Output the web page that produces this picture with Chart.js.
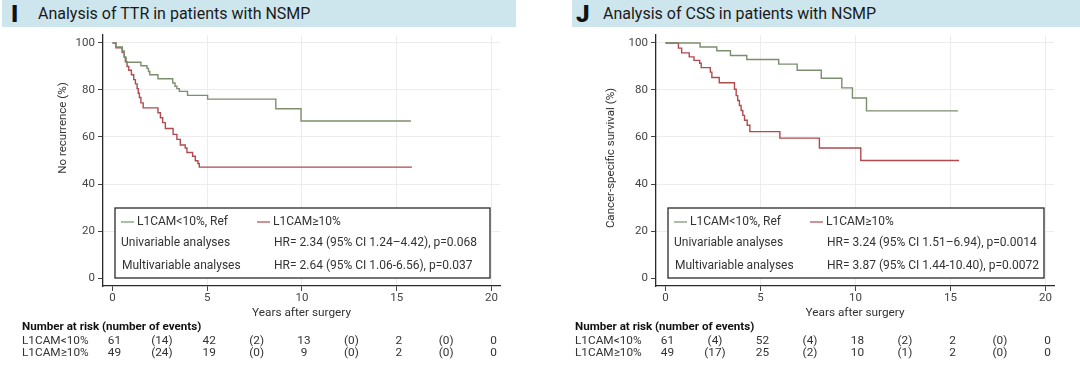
<!DOCTYPE html>
<html>
<head>
<meta charset="utf-8">
<script src="https://cdn.jsdelivr.net/npm/chart.js@4/dist/chart.umd.min.js"></script>
<style>
  body { margin: 0; background: #fff; font-family: Roboto, sans-serif; }
  #page { position: relative; width: 1080px; height: 371px; overflow: hidden; }
  .hdr { position: absolute; top: 0; height: 27px; background: #cde6ee; }
  .hdr b { position: absolute; top: 1px; font-size: 24px; font-weight: 900; color: #111; line-height: 26px; }
  .hdr span { position: absolute; top: 4px; font-size: 16px; color: #1a1a1a; line-height: 19px; }
  canvas { position: absolute; top: 0; }
</style>
</head>
<body>
<div id="page">
  <div class="hdr" style="left:2px;width:514px"><b style="left:9px">I</b><span style="left:36px">Analysis of TTR in patients with NSMP</span></div>
  <div class="hdr" style="left:572px;width:508px"><b style="left:4px">J</b><span style="left:31px">Analysis of CSS in patients with NSMP</span></div>
  <canvas id="ttrChart" width="540" height="371" style="left:0"></canvas>
  <canvas id="cssChart" width="540" height="371" style="left:540px"></canvas>
</div>
<script>
// groups and legend text
const groups = ['L1CAM<10%', 'L1CAM≥10%'];
const legendLabels = ['L1CAM<10%, Ref', 'L1CAM≥10%'];

// axis ticks
const xTicks = [0, 5, 10, 15, 20];
const yTicks = [0, 20, 40, 60, 80, 100];
const riskTimes = [0, 5, 10, 15, 20];

// panel I: time to recurrence (years, % without recurrence)
const ttrLowTime = [0, 0.18, 0.52, 0.62, 0.72, 1.5, 1.82, 1.9, 1.97, 2.4, 3.18, 3.3, 3.4, 3.53, 3.96, 5.02, 8.62, 9.95, 15.75];
const ttrLowSurv = [100, 98.3, 96.6, 94.0, 91.8, 90.3, 89.2, 87.9, 86.5, 84.8, 83.0, 81.6, 80.6, 79.4, 77.7, 76.1, 72.0, 66.8, 66.8];
const ttrHighTime = [0, 0.18, 0.51, 0.62, 0.68, 0.77, 0.86, 1.0, 1.12, 1.21, 1.3, 1.36, 1.42, 1.5, 1.62, 2.4, 2.53, 2.65, 2.79, 3.2, 3.4, 3.58, 3.84, 3.93, 4.23, 4.37, 4.51, 4.58, 15.8];
const ttrHighSurv = [100, 98.0, 96.0, 94.0, 92.0, 90.0, 88.4, 86.5, 84.4, 82.6, 80.6, 78.6, 76.8, 74.5, 72.4, 70.3, 68.2, 66.1, 63.6, 61.1, 59.0, 56.6, 55.3, 53.4, 51.8, 49.9, 48.7, 47.2, 47.2];
const ttrAtRiskLow = [61, 42, 13, 2, 0];
const ttrEventsLow = [14, 2, 0, 0];
const ttrAtRiskHigh = [49, 19, 9, 2, 0];
const ttrEventsHigh = [24, 0, 0, 0];
const ttrHR = ['HR= 2.34 (95% CI 1.24–4.42), p=0.068', 'HR= 2.64 (95% CI 1.06-6.56), p=0.037'];

// panel J: cancer-specific survival
const cssLowTime = [0, 1.82, 2.7, 3.42, 4.28, 5.96, 6.93, 8.2, 9.28, 9.84, 10.58, 15.4];
const cssLowSurv = [100, 98.3, 96.7, 94.7, 93.0, 91.0, 88.4, 85.0, 80.9, 76.6, 71.1, 71.1];
const cssHighTime = [0, 0.68, 0.85, 1.25, 1.5, 1.8, 1.88, 2.36, 2.44, 2.83, 3.63, 3.72, 3.8, 3.89, 3.98, 4.07, 4.16, 4.3, 4.44, 6.02, 8.1, 10.28, 15.45];
const cssHighSurv = [100, 97.8, 95.8, 94.1, 92.6, 91.4, 89.5, 87.6, 85.3, 83.1, 80.3, 77.6, 75.5, 73.4, 71.3, 69.2, 67.1, 65.0, 62.3, 59.5, 55.3, 50.0, 50.0];
const cssAtRiskLow = [61, 52, 18, 2, 0];
const cssEventsLow = [4, 4, 2, 0];
const cssAtRiskHigh = [49, 25, 10, 2, 0];
const cssEventsHigh = [17, 2, 1, 0];
const cssHR = ['HR= 3.24 (95% CI 1.51–6.94), p=0.0014', 'HR= 3.87 (95% CI 1.44-10.40), p=0.0072'];

const lowColor = '#7b8f6e';
const highColor = '#b04a4e';
const FONT = 'Roboto, sans-serif';

function toPoints(times, values) {
  return times.map((t, i) => ({ x: t, y: values[i] }));
}

// legend box, y title and number-at-risk table
const kmExtras = {
  id: 'kmExtras',
  afterDraw(chart, args, opts) {
    const { ctx, chartArea: ca, scales: { x } } = chart;
    ctx.save();
    ctx.fillStyle = '#333';
    ctx.font = '11.5px ' + FONT;
    ctx.textBaseline = 'middle';

    // y axis title
    ctx.save();
    ctx.translate(opts.yTitleX, opts.yTitleY);
    ctx.rotate(-Math.PI / 2);
    ctx.textAlign = 'center';
    ctx.fillText(opts.yTitle, 0, 0);
    ctx.restore();

    // legend box
    const bl = ca.left + 12, br = ca.right - 10, bt = ca.bottom - 78, bb = ca.bottom - 8;
    ctx.fillStyle = '#fff';
    ctx.fillRect(bl, bt, br - bl, bb - bt);
    ctx.strokeStyle = '#2a2a2a';
    ctx.lineWidth = 1.3;
    ctx.strokeRect(bl, bt, br - bl, bb - bt);
    ctx.textAlign = 'left';
    ctx.font = '12px ' + FONT;
    const colors = [lowColor, highColor];
    [6, 142].forEach((dx, i) => {
      ctx.strokeStyle = colors[i];
      ctx.lineWidth = 1.2;
      ctx.beginPath();
      ctx.moveTo(bl + dx, bt + 14);
      ctx.lineTo(bl + dx + 13, bt + 14);
      ctx.stroke();
      ctx.fillStyle = '#333';
      ctx.fillText(legendLabels[i], bl + dx + 16, bt + 14);
    });
    ctx.fillText('Univariable analyses', bl + 6, bt + 35);
    ctx.fillText('Multivariable analyses', bl + 7, bt + 58);
    ctx.fillText(opts.hr[0], bl + 159, bt + 35);
    ctx.fillText(opts.hr[1], bl + 159, bt + 58);

    // number at risk
    const lx = ca.left - 81;
    ctx.font = 'bold 11.6px ' + FONT;
    ctx.fillStyle = '#111';
    ctx.fillText('Number at risk (number of events)', lx, 327);
    ctx.font = '11.8px ' + FONT;
    ctx.fillStyle = '#333';
    const rows = [[opts.atRisk[0], opts.events[0]], [opts.atRisk[1], opts.events[1]]];
    rows.forEach((row, r) => {
      const y = 341 + r * 12.5;
      ctx.textAlign = 'left';
      ctx.fillText(groups[r], lx, y);
      ctx.textAlign = 'center';
      row[0].forEach((n, i) => {
        ctx.fillText(String(n), x.getPixelForValue(riskTimes[i]) + 2, y);
      });
      row[1].forEach((n, i) => {
        const mid = (riskTimes[i] + riskTimes[i + 1]) / 2;
        ctx.fillText('(' + n + ')', x.getPixelForValue(mid) + 2, y);
      });
    });
    ctx.restore();
  }
};

function makeChart(id, p) {
  return new Chart(document.getElementById(id), {
    type: 'line',
    data: {
      datasets: [
        { label: legendLabels[0], data: toPoints(p.lowTime, p.lowSurv), borderColor: lowColor },
        { label: legendLabels[1], data: toPoints(p.highTime, p.highSurv), borderColor: highColor }
      ]
    },
    options: {
      responsive: false,
      animation: false,
      layout: { padding: { top: 35, right: p.padRight, left: 0, bottom: 0 } },
      elements: {
        point: { radius: 0 },
        line: { stepped: 'before', borderWidth: 1.4, fill: false }
      },
      plugins: {
        legend: { display: false },
        tooltip: { enabled: false },
        kmExtras: p.extras
      },
      scales: {
        x: {
          type: 'linear',
          min: -0.5,
          max: 20.45,
          afterBuildTicks: s => { s.ticks = xTicks.map(v => ({ value: v })); },
          afterFit: s => { s.height = 85; },
          grid: {
            color: c => (c.tick && c.tick.value === 0) ? 'rgba(0,0,0,0)' : '#ececec',
            tickColor: '#444',
            tickLength: 5
          },
          border: { color: '#2a2a2a', width: 1.3 },
          ticks: { color: '#444', font: { family: FONT, size: 11.5 }, padding: 0, maxRotation: 0 },
          title: { display: true, text: 'Years after surgery', color: '#333', font: { family: FONT, size: 11.8 }, padding: { top: 0, bottom: 51 } }
        },
        y: {
          min: -3.4,
          max: 103.4,
          afterBuildTicks: s => { s.ticks = yTicks.map(v => ({ value: v })); },
          afterFit: s => { s.width = p.yWidth; },
          grid: {
            color: c => (c.tick && c.tick.value === 0) ? 'rgba(0,0,0,0)' : '#ececec',
            tickColor: '#444',
            tickLength: 5
          },
          border: { color: '#2a2a2a', width: 1.3 },
          ticks: { color: '#444', font: { family: FONT, size: 11.5 }, padding: 3 }
        }
      }
    },
    plugins: [kmExtras]
  });
}

makeChart('ttrChart', {
  lowTime: ttrLowTime, lowSurv: ttrLowSurv, highTime: ttrHighTime, highSurv: ttrHighSurv,
  yWidth: 103, padRight: 40,
  extras: { yTitle: 'No recurrence (%)', yTitleX: 63, yTitleY: 128, hr: ttrHR,
    atRisk: [ttrAtRiskLow, ttrAtRiskHigh], events: [ttrEventsLow, ttrEventsHigh] }
});

makeChart('cssChart', {
  lowTime: cssLowTime, lowSurv: cssLowSurv, highTime: cssHighTime, highSurv: cssHighSurv,
  yWidth: 116, padRight: 26,
  extras: { yTitle: 'Cancer-specific survival (%)', yTitleX: 71, yTitleY: 158, hr: cssHR,
    atRisk: [cssAtRiskLow, cssAtRiskHigh], events: [cssEventsLow, cssEventsHigh] }
});
</script>
</body>
</html>
